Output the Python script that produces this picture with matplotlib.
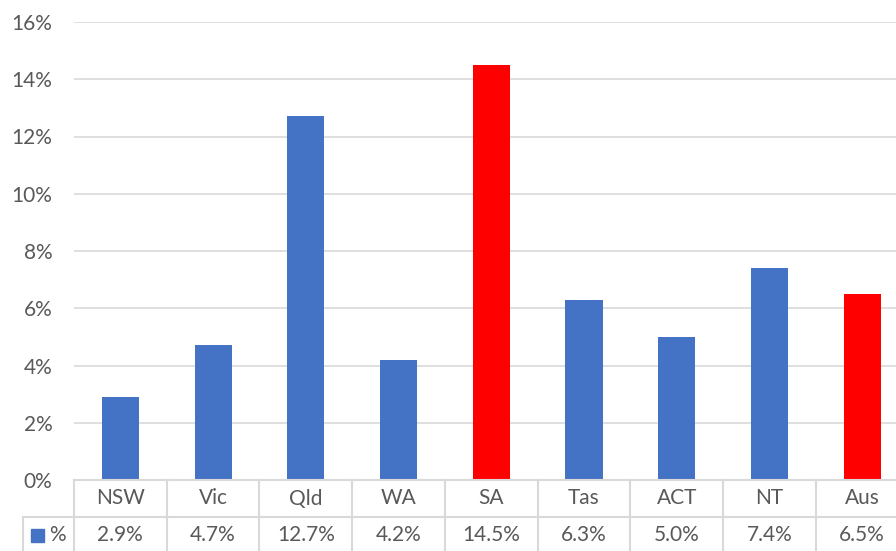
import matplotlib
matplotlib.use("Agg")
import matplotlib.pyplot as plt
from matplotlib.patches import Rectangle

categories = ["NSW", "Vic", "Qld", "WA", "SA", "Tas", "ACT", "NT", "Aus"]
values = [2.9, 4.7, 12.7, 4.2, 14.5, 6.3, 5.0, 7.4, 6.5]
highlight = ["SA", "Aus"]
yticks = [0, 2, 4, 6, 8, 10, 12, 14, 16]
series_name = "%"

BLUE = "#4472C4"
RED = "#FF0000"
GRID = "#D9D9D9"
TXT = "#595959"
FONT = "Lato"
FS = 15

W, H = 896, 551
fig = plt.figure(figsize=(W / 100, H / 100), dpi=100)
left_px, right_px, top_px, bottom_px = 74, 908.5, 22, 480
ax = fig.add_axes([left_px / W, 1 - bottom_px / H, (right_px - left_px) / W, (bottom_px - top_px) / H])

colors = [RED if c in highlight else BLUE for c in categories]
x = list(range(len(categories)))
ax.bar(x, values, width=0.4, color=colors, zorder=3)
ax.set_xlim(-0.5, len(categories) - 0.5)
ax.set_ylim(0, 16)
ax.set_yticks(yticks)
ax.set_yticklabels([f"{t}%" for t in yticks], fontsize=FS, color=TXT, family=FONT)
ax.tick_params(axis="y", length=0, pad=15.5)
ax.set_xticks([])
ax.grid(axis="y", color=GRID, lw=1.2, zorder=0)
for s in ax.spines.values():
    s.set_visible(False)

# data table drawn in pixel coordinates
def px_line(x0, y0, x1, y1):
    fig.add_artist(plt.Line2D([x0 / W, x1 / W], [1 - y0 / H, 1 - y1 / H],
                              color=GRID, lw=1.5, transform=fig.transFigure))

colw = (right_px - left_px) / len(categories)
row_mid = 516.5
bot = 552
px_line(left_px, bottom_px, W + 20, bottom_px)
px_line(23, row_mid, W + 20, row_mid)
px_line(23, row_mid, 23, bot)
for i in range(len(categories) + 1):
    xx = left_px + i * colw
    px_line(xx, bottom_px, xx, bot)

for i, (c, v) in enumerate(zip(categories, values)):
    cx = (left_px + (i + 0.5) * colw) / W
    fig.text(cx, 1 - 498.5 / H, c, ha="center", va="center", fontsize=FS, color=TXT, family=FONT)
    fig.text(cx, 1 - 535 / H, f"{v:.1f}%", ha="center", va="center", fontsize=FS, color=TXT, family=FONT)

fig.add_artist(Rectangle((31 / W, 1 - 542 / H), 13 / W, 13 / H, color=BLUE, transform=fig.transFigure))
fig.text(49 / W, 1 - 535 / H, series_name, ha="left", va="center", fontsize=FS, color=TXT, family=FONT)

fig.savefig("out.png", dpi=100)
